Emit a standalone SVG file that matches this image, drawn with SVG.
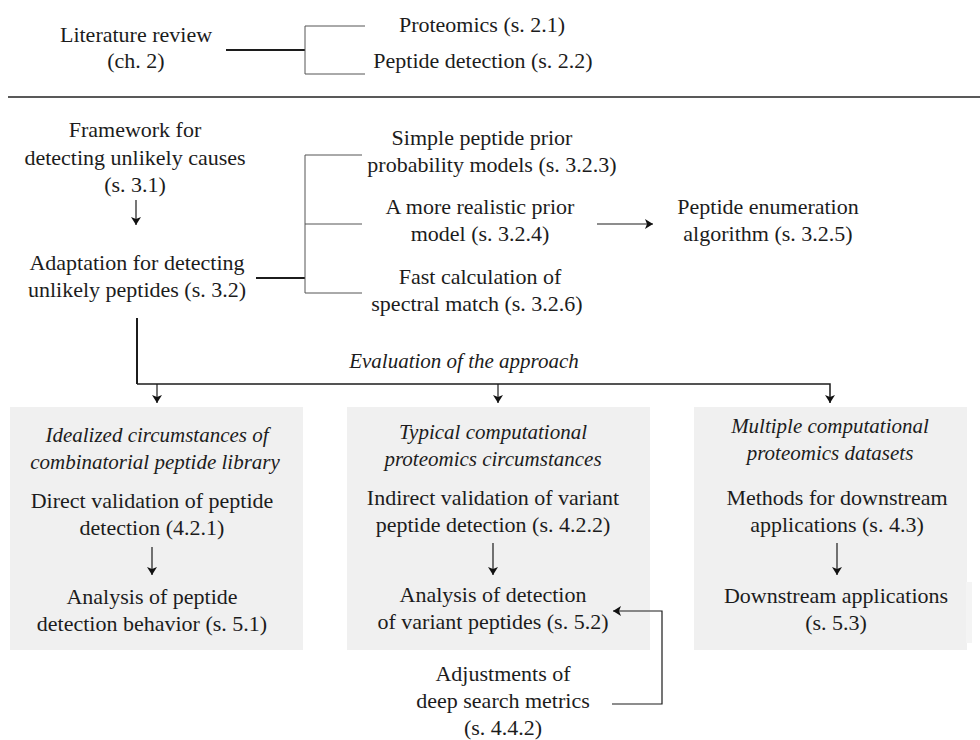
<svg xmlns="http://www.w3.org/2000/svg" width="980" height="740" viewBox="0 0 980 740">
<style>
text{font-family:"Liberation Serif","DejaVu Serif",serif;font-size:22px;fill:#1c1c1c;text-anchor:middle}
.it{font-style:italic;font-size:21px}
.box{fill:#f0f0f0}
.thick{stroke:#1c1c1c;stroke-width:2;fill:none}
.thin{stroke:#555;stroke-width:1;fill:none}
.arr{stroke:#1c1c1c;stroke-width:1.2;fill:none;marker-end:url(#ah)}
</style>
<defs>
<marker id="ah" viewBox="0 0 8 10" refX="8" refY="5" markerWidth="8" markerHeight="10" markerUnits="userSpaceOnUse" orient="auto"><path d="M0,0 L8,5 L0,10 L2,5 z" fill="#111"/></marker>
</defs>
<rect width="980" height="740" fill="#fff"/>

<g id="lit"><text x="136" y="42">Literature review</text><text x="136" y="68">(ch. 2)</text></g>
<g id="prot"><text x="482" y="32">Proteomics (s. 2.1)</text></g>
<g id="pepdet"><text x="483" y="68">Peptide detection (s. 2.2)</text></g>
<line x1="8" y1="97" x2="980" y2="97" stroke="#222" stroke-width="1.5"/>

<g id="framework"><text x="135" y="137">Framework for</text><text x="135" y="165">detecting unlikely causes</text><text x="135" y="192">(s. 3.1)</text></g>
<g id="adaptation"><text x="137" y="270">Adaptation for detecting</text><text x="137" y="297">unlikely peptides (s. 3.2)</text></g>
<g id="simple"><text x="482" y="145">Simple peptide prior</text><text x="492" y="172">probability models (s. 3.2.3)</text></g>
<g id="realistic"><text x="480" y="214">A more realistic prior</text><text x="480" y="241">model (s. 3.2.4)</text></g>
<g id="fast"><text x="480" y="284">Fast calculation of</text><text x="477" y="311">spectral match (s. 3.2.6)</text></g>
<g id="enum"><text x="768" y="214">Peptide enumeration</text><text x="768" y="241">algorithm (s. 3.2.5)</text></g>
<g id="evalLabel"><text class="it" x="464" y="368">Evaluation of the approach</text></g>

<g id="box1">
<rect class="box" x="10" y="407" width="293" height="243"/>
<text class="it" x="157" y="442">Idealized circumstances of</text>
<text class="it" x="155" y="469">combinatorial peptide library</text>
<text x="152" y="508">Direct validation of peptide</text>
<text x="152" y="535">detection (4.2.1)</text>
<text x="152" y="604">Analysis of peptide</text>
<text x="152" y="631">detection behavior (s. 5.1)</text>
</g>
<g id="box2">
<rect class="box" x="347" y="407" width="303" height="243"/>
<text class="it" x="493" y="439">Typical computational</text>
<text class="it" x="493" y="466">proteomics circumstances</text>
<text x="493" y="505">Indirect validation of variant</text>
<text x="493" y="532">peptide detection (s. 4.2.2)</text>
<text x="493" y="602">Analysis of detection</text>
<text x="493" y="629">of variant peptides (s. 5.2)</text>
</g>
<g id="box3">
<rect class="box" x="694" y="407" width="273" height="243"/>
<rect x="966" y="582" width="6" height="61" fill="#f4f4f4"/>
<text class="it" x="830" y="433">Multiple computational</text>
<text class="it" x="830" y="460">proteomics datasets</text>
<text x="837" y="505">Methods for downstream</text>
<text x="837" y="532">applications (s. 4.3)</text>
<text x="836" y="603">Downstream applications</text>
<text x="836" y="630">(s. 5.3)</text>
</g>
<g id="adjust"><text x="503" y="681">Adjustments of</text><text x="503" y="708">deep search metrics</text><text x="503" y="735">(s. 4.4.2)</text></g>

<g id="connectors">
<line class="thick" x1="226" y1="50" x2="305" y2="50"/>
<path class="thin" d="M365,26 H305 V74 H365"/>
<path class="arr" d="M136,200 V225"/>
<line class="thick" x1="256" y1="278" x2="305" y2="278"/>
<path class="thin" d="M362,155 H305 V293 H362 M305,224 H362"/>
<path class="arr" d="M597,224 H653"/>
<path class="thick" d="M137,318 V384"/>
<path class="arr" style="stroke-width:1.5" d="M137,384 H830 V403"/>
<path class="arr" d="M157,384 V403"/>
<path class="arr" d="M498,384 V403"/>
<path class="arr" d="M152,547 V575"/>
<path class="arr" d="M493,543 V575"/>
<path class="arr" d="M837,543 V575"/>
<path class="arr" d="M612,704 H662 V611 H613"/>
</g>
</svg>
